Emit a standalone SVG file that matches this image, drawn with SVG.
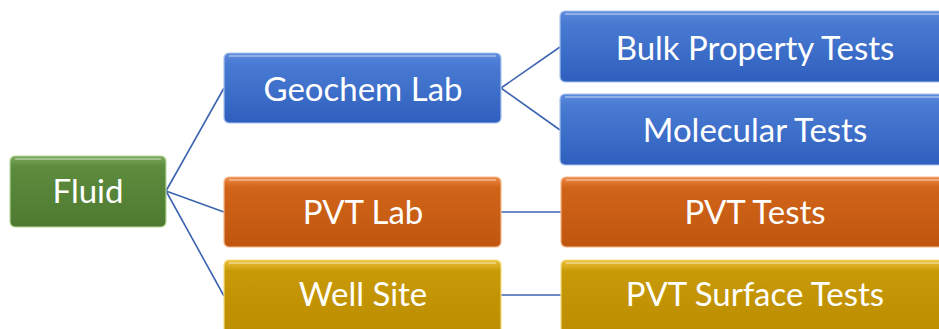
<svg xmlns="http://www.w3.org/2000/svg" width="939" height="329" viewBox="0 0 939 329">
<defs>
<linearGradient id="gBlue" x1="0" y1="0" x2="0" y2="1"><stop offset="0" stop-color="#5d8bdc"/><stop offset="0.15" stop-color="#4a7bd3"/><stop offset="1" stop-color="#2e5fbd"/></linearGradient>
<linearGradient id="gGreen" x1="0" y1="0" x2="0" y2="1"><stop offset="0" stop-color="#78a858"/><stop offset="0.15" stop-color="#5e8c3e"/><stop offset="1" stop-color="#4d7a30"/></linearGradient>
<linearGradient id="gOrange" x1="0" y1="0" x2="0" y2="1"><stop offset="0" stop-color="#f08a45"/><stop offset="0.15" stop-color="#d06419"/><stop offset="1" stop-color="#c0560f"/></linearGradient>
<linearGradient id="gGold" x1="0" y1="0" x2="0" y2="1"><stop offset="0" stop-color="#eec23a"/><stop offset="0.15" stop-color="#c89a08"/><stop offset="1" stop-color="#bb8d00"/></linearGradient>
</defs>
<style>
.box{stroke-width:1.2}
.blue{fill:url(#gBlue);stroke:#a9c2ee}
.green{fill:url(#gGreen);stroke:#b5d69c}
.orange{fill:url(#gOrange);stroke:#f5b88c}
.gold{fill:url(#gGold);stroke:#f3dc80}
.hl{fill:none;stroke:#ffffff;stroke-opacity:0.35;stroke-width:2}
.lbl{font-family:Lato,"Open Sans",sans-serif;font-size:33px;fill:#ffffff;text-anchor:middle}
.conn{stroke:#3d64b0;stroke-width:1.6;fill:none}
</style>
<g id="connectors">
<line class="conn" x1="166" y1="191" x2="224" y2="88"/>
<line class="conn" x1="166" y1="191" x2="224" y2="212"/>
<line class="conn" x1="166" y1="191" x2="224" y2="296"/>
<line class="conn" x1="501" y1="88" x2="560" y2="47"/>
<line class="conn" x1="501" y1="88" x2="560" y2="130"/>
<line class="conn" x1="501" y1="212" x2="561" y2="212"/>
<line class="conn" x1="501" y1="295" x2="561" y2="295"/>
</g>
<g id="fluid">
<rect class="box green" x="10" y="156" width="156" height="71" rx="5"/>
<line class="hl" x1="15" y1="159" x2="161" y2="159"/>
<text class="lbl" x="88" y="203">Fluid</text>
</g>
<g id="geochem">
<rect class="box blue" x="224" y="53" width="277" height="70" rx="5"/>
<line class="hl" x1="229" y1="56" x2="496" y2="56"/>
<text class="lbl" x="363" y="101">Geochem Lab</text>
</g>
<g id="bulk">
<rect class="box blue" x="560" y="11" width="392" height="71" rx="5"/>
<line class="hl" x1="565" y1="14" x2="952" y2="14"/>
<text class="lbl" x="755" y="60">Bulk Property Tests</text>
</g>
<g id="molecular">
<rect class="box blue" x="560" y="94" width="392" height="71" rx="5"/>
<line class="hl" x1="565" y1="97" x2="952" y2="97"/>
<text class="lbl" x="755" y="142">Molecular Tests</text>
</g>
<g id="pvtlab">
<rect class="box orange" x="224" y="177" width="277" height="70" rx="5"/>
<line class="hl" x1="229" y1="180" x2="496" y2="180"/>
<text class="lbl" x="363" y="224">PVT Lab</text>
</g>
<g id="pvttests">
<rect class="box orange" x="561" y="177" width="392" height="70" rx="5"/>
<line class="hl" x1="566" y1="180" x2="953" y2="180"/>
<text class="lbl" x="755" y="224">PVT Tests</text>
</g>
<g id="wellsite">
<rect class="box gold" x="224" y="260" width="277" height="75" rx="5"/>
<line class="hl" x1="229" y1="263" x2="496" y2="263"/>
<text class="lbl" x="363" y="306">Well Site</text>
</g>
<g id="pvtsurface">
<rect class="box gold" x="561" y="260" width="392" height="75" rx="5"/>
<line class="hl" x1="566" y1="263" x2="953" y2="263"/>
<text class="lbl" x="755" y="306">PVT Surface Tests</text>
</g>
</svg>
